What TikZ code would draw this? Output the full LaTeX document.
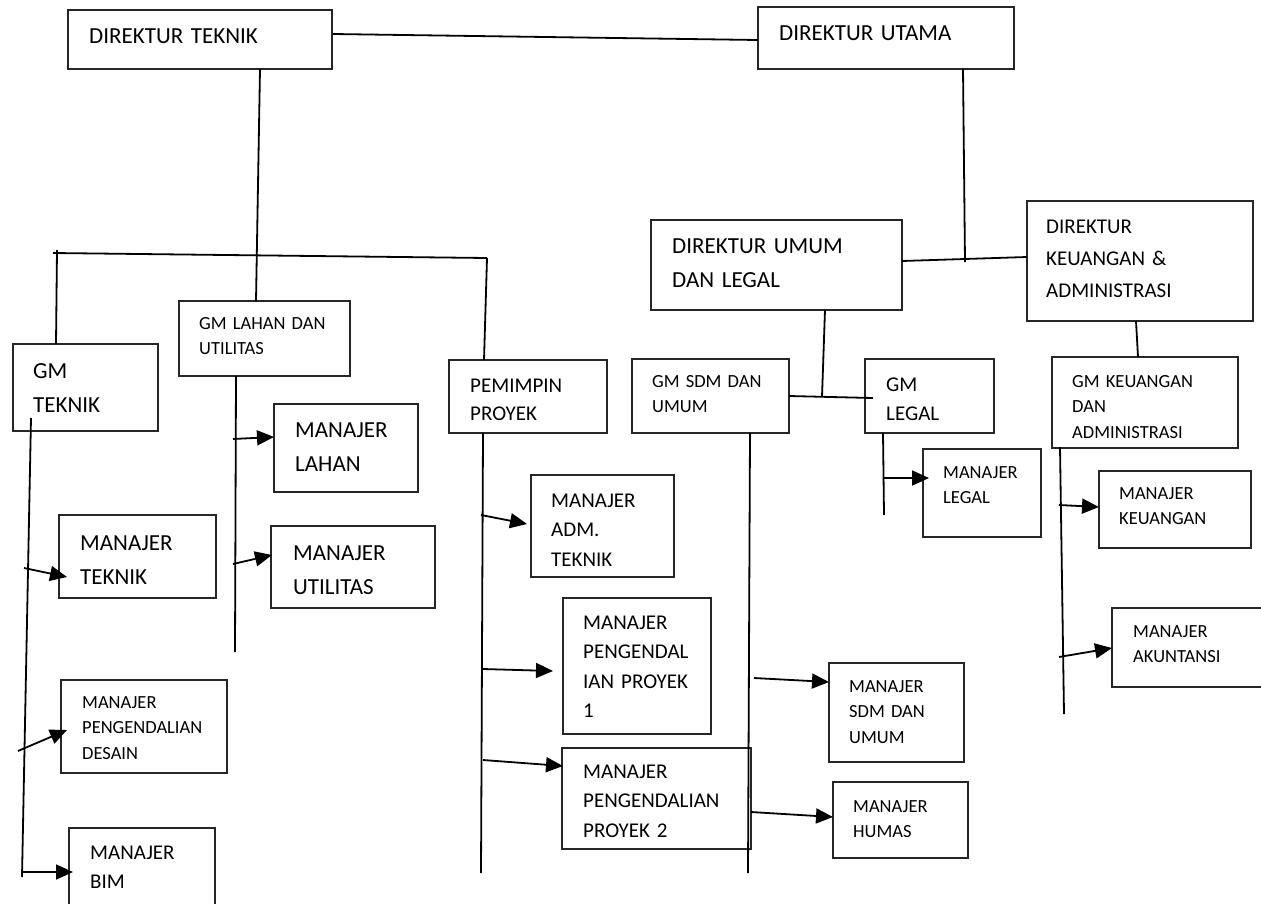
\documentclass[tikz,border=0pt]{standalone}
\usepackage{fontspec}
\setmainfont{Carlito}
\usetikzlibrary{arrows.meta}
\begin{document}
\begin{tikzpicture}[x=1pt,y=-1pt,
  box/.style={draw=black!85, line width=1.2pt, rectangle, inner sep=0pt},
  txt/.style={anchor=base west, inner sep=0pt, text width=250pt, execute at begin node={\raggedright}},
  big/.style={font=\fontsize{23}{34}\selectfont},
  mid/.style={font=\fontsize{21}{29.5}\selectfont},
  sml/.style={font=\fontsize{18.5}{25.7}\selectfont},
  ln/.style={line width=1.8pt},
  arr/.style={line width=1.8pt, -{Triangle[length=17pt,width=15pt]}}]
\fill[white] (0,0) rectangle (1261,903);
\clip (0,0) rectangle (1261,903);

% ---------- boxes ----------
\node[box, minimum width=264pt, minimum height=59pt] (dt) at (200,39.5) {};
\node[box, minimum width=256pt, minimum height=62pt] (du) at (886,38) {};
\node[box, minimum width=251pt, minimum height=90pt] (dul) at (776.5,265) {};
\node[box, minimum width=226pt, minimum height=120pt] (dka) at (1140,261) {};
\node[box, minimum width=145pt, minimum height=87pt] (gmt) at (85.5,387.5) {};
\node[box, minimum width=171pt, minimum height=75pt] (gml) at (264.5,338.5) {};
\node[box, minimum width=144pt, minimum height=88pt] (mlah) at (346,448) {};
\node[box, minimum width=164pt, minimum height=82pt] (mutil) at (353,567) {};
\node[box, minimum width=157pt, minimum height=83pt] (mtek) at (137.5,556.5) {};
\node[box, minimum width=166pt, minimum height=93pt] (mdes) at (144,726.5) {};
\node[box, minimum width=146pt, minimum height=90pt] (mbim) at (142,873) {};
\node[box, minimum width=158pt, minimum height=73pt] (pp) at (528,396.5) {};
\node[box, minimum width=143pt, minimum height=102pt] (madm) at (602.5,526) {};
\node[box, minimum width=148pt, minimum height=136pt] (mpp1) at (637,666) {};
\node[box, minimum width=189pt, minimum height=101pt] (mpp2) at (656.5,798.5) {};
\node[box, minimum width=157pt, minimum height=74pt] (gmsdm) at (710.5,396) {};
\node[box, minimum width=129pt, minimum height=74pt] (gmleg) at (929.5,396) {};
\node[box, minimum width=118pt, minimum height=88pt] (mleg) at (982,493) {};
\node[box, minimum width=186pt, minimum height=91pt] (gmkeu) at (1145,402.5) {};
\node[box, minimum width=152pt, minimum height=77pt] (mkeu) at (1175,509.5) {};
\node[box, minimum width=170pt, minimum height=79pt] (makun) at (1197,647.5) {};
\node[box, minimum width=135pt, minimum height=99pt] (msdm) at (896.5,712.5) {};
\node[box, minimum width=135pt, minimum height=76pt] (mhum) at (900.5,820) {};

% ---------- texts ----------
\node[txt,big] (t-dt) at (89,43.4) {DIREKTUR TEKNIK};
\node[txt,big] (t-du) at (779,40) {DIREKTUR UTAMA};
\node[txt,big] (t-dul) at (672,253.5) {DIREKTUR UMUM\\DAN LEGAL};
\node[txt,font=\fontsize{21}{32}\selectfont] (t-dka) at (1046,233) {DIREKTUR\\KEUANGAN \&\\ADMINISTRASI};
\node[txt,big] (t-gmt) at (33,378) {GM\\TEKNIK};
\node[txt,sml] (t-gml) at (199,329) {GM LAHAN DAN\\UTILITAS};
\node[txt,big] (t-mlah) at (295,437) {MANAJER\\LAHAN};
\node[txt,big] (t-mutil) at (293,560) {MANAJER\\UTILITAS};
\node[txt,big] (t-mtek) at (80,550) {MANAJER\\TEKNIK};
\node[txt,sml] (t-mdes) at (82,708) {MANAJER\\PENGENDALIAN\\DESAIN};
\node[txt,mid] (t-mbim) at (90,859) {MANAJER\\BIM};
\node[txt,font=\fontsize{21}{28}\selectfont] (t-pp) at (470,392) {PEMIMPIN\\PROYEK};
\node[txt,mid] (t-madm) at (551,507) {MANAJER\\ADM.\\TEKNIK};
\node[txt,mid] (t-mpp1) at (583,629) {MANAJER\\PENGENDAL\\IAN PROYEK\\1};
\node[txt,mid] (t-mpp2) at (583,778) {MANAJER\\PENGENDALIAN\\PROYEK 2};
\node[txt,sml] (t-gmsdm) at (652,387) {GM SDM DAN\\UMUM};
\node[txt,font=\fontsize{21}{29}\selectfont] (t-gmleg) at (886,391) {GM\\LEGAL};
\node[txt,sml] (t-mleg) at (943,478) {MANAJER\\LEGAL};
\node[txt,sml] (t-gmkeu) at (1072,387) {GM KEUANGAN\\DAN\\ADMINISTRASI};
\node[txt,sml] (t-mkeu) at (1119,499) {MANAJER\\KEUANGAN};
\node[txt,sml] (t-makun) at (1133,637) {MANAJER\\AKUNTANSI};
\node[txt,sml] (t-msdm) at (849,692) {MANAJER\\SDM DAN\\UMUM};
\node[txt,sml] (t-mhum) at (853,812) {MANAJER\\HUMAS};

% ---------- connector points ----------
\coordinate (dtR) at (333,34);
\coordinate (duL) at (758,40);
\coordinate (duB) at (963,69);
\coordinate (duJ) at (965,262);
\coordinate (dulR) at (902,261);
\coordinate (dkaL) at (1027,257);
\coordinate (dtB) at (260,69);
\coordinate (gmlT) at (256,301);
\coordinate (hL) at (53,253);
\coordinate (hR) at (487,258);
\coordinate (vL) at (57,250);
\coordinate (gmtT) at (56,344);
\coordinate (ppT) at (484,360);
\coordinate (gmtS) at (31,418);
\coordinate (gmtE) at (22,877);
\coordinate (gmlB) at (236,376);
\coordinate (gmlE) at (235,652);
\coordinate (ppB) at (483,433);
\coordinate (ppE) at (481,873);
\coordinate (dulB) at (825,310);
\coordinate (dulJ) at (822,397);
\coordinate (sdmR) at (789,396);
\coordinate (legIn) at (873,398);
\coordinate (sdmB) at (750,433);
\coordinate (sdmE) at (748,873);
\coordinate (legB) at (883,433);
\coordinate (legE) at (884,515);
\coordinate (dkaB) at (1136,321);
\coordinate (keuT) at (1138,357);
\coordinate (keuB) at (1060,447);
\coordinate (keuE) at (1064,714);

% ---------- lines ----------
\draw[ln] (dtR) -- (duL);
\draw[ln] (duB) -- (duJ);
\draw[ln] (dulR) -- (dkaL);
\draw[ln] (dtB) -- (gmlT);
\draw[ln] (hL) -- (hR);
\draw[ln] (vL) -- (gmtT);
\draw[ln] (hR) -- (ppT);
\draw[ln] (gmtS) -- (gmtE);
\draw[ln] (gmlB) -- (gmlE);
\draw[ln] (ppB) -- (ppE);
\draw[ln] (dulB) -- (dulJ);
\draw[ln] (sdmR) -- (legIn);
\draw[ln] (sdmB) -- (sdmE);
\draw[ln] (legB) -- (legE);
\draw[ln] (dkaB) -- (keuT);
\draw[ln] (keuB) -- (keuE);

% ---------- arrows ----------
\coordinate (a1) at (24,568);   \coordinate (b1) at (67,577);
\coordinate (a2) at (18,751);   \coordinate (b2) at (67,730);
\coordinate (a3) at (22,872);   \coordinate (b3) at (73,872);
\coordinate (a4) at (233,439);  \coordinate (b4) at (274,437);
\coordinate (a5) at (233,564);  \coordinate (b5) at (272,555);
\coordinate (a6) at (481,515);  \coordinate (b6) at (527,524);
\coordinate (a7) at (483,669);  \coordinate (b7) at (553,671);
\coordinate (a8) at (483,760);  \coordinate (b8) at (563,766);
\coordinate (a9) at (754,678);  \coordinate (b9) at (829,682);
\coordinate (a10) at (751,812); \coordinate (b10) at (833,817);
\coordinate (a11) at (884,478); \coordinate (b11) at (929,478);
\coordinate (a12) at (1059,505);\coordinate (b12) at (1099,507);
\coordinate (a13) at (1059,657);\coordinate (b13) at (1112,648);
\foreach \i in {1,...,13} {\draw[arr] (a\i) -- (b\i);}
\end{tikzpicture}
\end{document}
